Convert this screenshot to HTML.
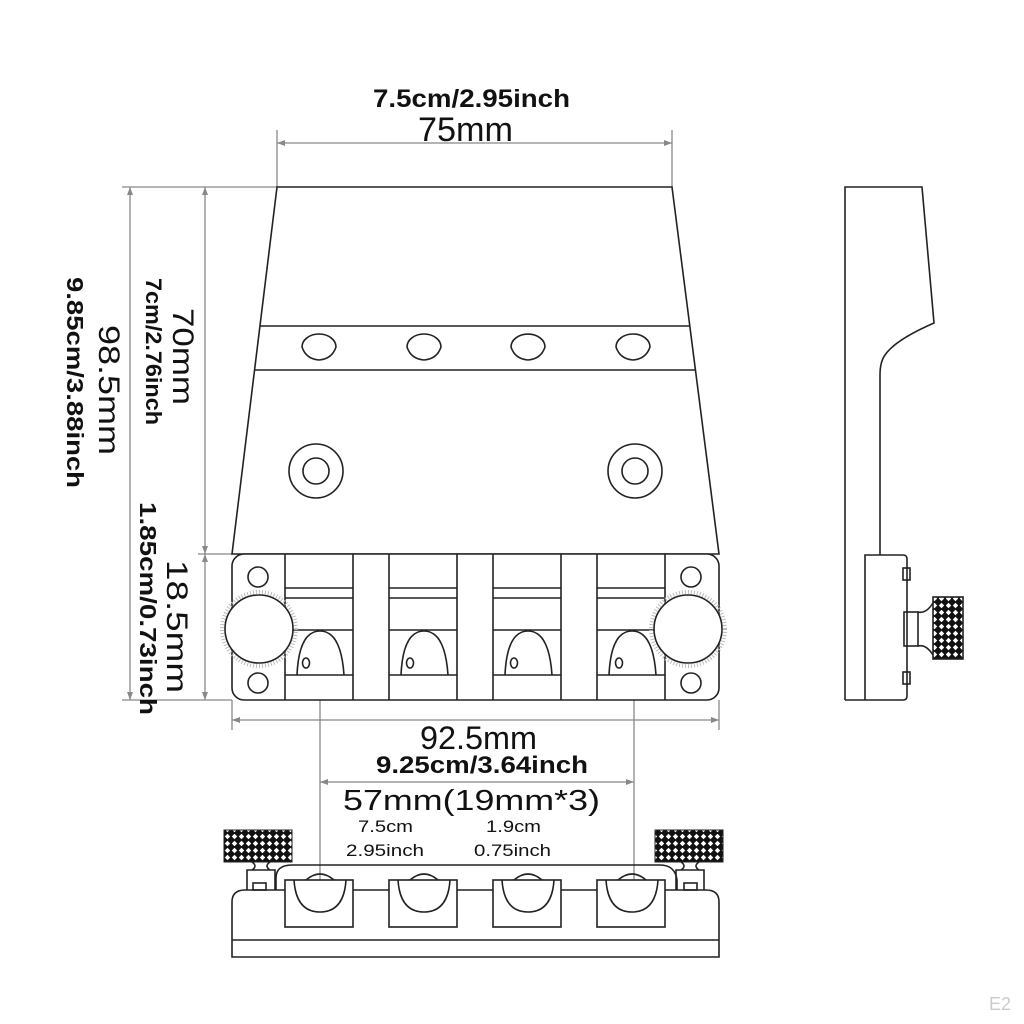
<!DOCTYPE html>
<html><head><style>
html,body{margin:0;padding:0;background:#fff;width:1024px;height:1024px;overflow:hidden}
svg{display:block}
text{font-family:"Liberation Sans",Arial,sans-serif;fill:#111}
.b{font-weight:bold}
</style></head><body>
<svg width="1024" height="1024" viewBox="0 0 1024 1024" xmlns="http://www.w3.org/2000/svg">
<defs>
<pattern id="kn" width="7" height="7" patternUnits="userSpaceOnUse">
<rect width="7" height="7" fill="#111"/>
<path d="M3.5 0.8 L6.2 3.5 L3.5 6.2 L0.8 3.5Z" fill="#fff"/>
</pattern>
</defs>
<g fill="none" stroke="#888" stroke-width="1.3">
<line x1="277" y1="143" x2="672" y2="143"/>
<line x1="277" y1="130" x2="277" y2="187"/>
<line x1="672" y1="130" x2="672" y2="187"/>
<line x1="122" y1="187" x2="277" y2="187"/>
<line x1="198" y1="554" x2="232" y2="554"/>
<line x1="122" y1="700" x2="232" y2="700"/>
<line x1="130" y1="187" x2="130" y2="700"/>
<line x1="205" y1="187" x2="205" y2="700"/>
<line x1="232" y1="720" x2="719" y2="720"/>
<line x1="232" y1="700" x2="232" y2="730"/>
<line x1="719" y1="700" x2="719" y2="730"/>
<line x1="320" y1="782" x2="634" y2="782"/>
<line x1="320" y1="660" x2="320" y2="920"/>
<line x1="634" y1="660" x2="634" y2="920"/>
</g>
<g fill="#888">
<path d="M277 143 l8 -3 v6z M672 143 l-8 -3 v6z"/>
<path d="M130 187 l-3 8 h6z M130 700 l-3 -8 h6z M205 187 l-3 8 h6z M205 554 l-3 -8 h6z M205 554 l-3 8 h6z M205 700 l-3 -8 h6z"/>
<path d="M232 720 l8 -3 v6z M719 720 l-8 -3 v6z M320 782 l8 -3 v6z M634 782 l-8 -3 v6z"/>
</g>

<g fill="none" stroke="#222" stroke-width="1.6">
<path d="M277 187 H672 L719 554 H232 Z"/>
<line x1="260" y1="326" x2="690" y2="326"/>
<line x1="255" y1="370" x2="696" y2="370"/>
<g fill="#fff">
<path d="M302 347 a17 13 0 0 1 34 0 q-4 12 -17 13 q-13 -1 -17 -13z"/>
<path d="M407 347 a17 13 0 0 1 34 0 q-4 12 -17 13 q-13 -1 -17 -13z"/>
<path d="M511 347 a17 13 0 0 1 34 0 q-4 12 -17 13 q-13 -1 -17 -13z"/>
<path d="M616 347 a17 13 0 0 1 34 0 q-4 12 -17 13 q-13 -1 -17 -13z"/>
</g>
<circle cx="316" cy="471" r="27"/><circle cx="316" cy="471" r="13"/>
<circle cx="635" cy="471" r="27"/><circle cx="635" cy="471" r="13"/>
<rect x="232" y="554" width="487" height="146" rx="12" fill="#fff"/>
<path d="M285 554V700 M353 554V700 M389 554V700 M457 554V700 M493 554V700 M561 554V700 M597 554V700 M665 554V700"/>
<path d="M285 588H353 M285 598H353 M285 630H353 M285 675H353"/>
<path d="M389 588H457 M389 598H457 M389 630H457 M389 675H457"/>
<path d="M493 588H561 M493 598H561 M493 630H561 M493 675H561"/>
<path d="M597 588H665 M597 598H665 M597 630H665 M597 675H665"/>
<path d="M297 675 Q299 631 320 631 Q341 631 344 675"/>
<path d="M401 675 Q403 631 424 631 Q445 631 448 675"/>
<path d="M505 675 Q507 631 528 631 Q549 631 552 675"/>
<path d="M609 675 Q611 631 632 631 Q653 631 656 675"/>
<ellipse cx="306" cy="663" rx="3.5" ry="5"/>
<ellipse cx="410" cy="663" rx="3.5" ry="5"/>
<ellipse cx="514" cy="663" rx="3.5" ry="5"/>
<ellipse cx="619" cy="663" rx="3.5" ry="5"/>
<circle cx="258" cy="577" r="10"/><circle cx="258" cy="683" r="10"/>
<circle cx="691" cy="577" r="10"/><circle cx="691" cy="683" r="10"/>
<circle cx="259" cy="629" r="37" stroke="#bbb" stroke-width="4" stroke-dasharray="1 2"/>
<circle cx="259" cy="629" r="34" fill="#fff"/>
<circle cx="688" cy="629" r="37" stroke="#bbb" stroke-width="4" stroke-dasharray="1 2"/>
<circle cx="688" cy="629" r="34" fill="#fff"/>

<path d="M845 700 V187 H922 L934 323 Q895 340 885 355 Q880 362 880 375 V555"/>
<path d="M845 700 H903 Q907 700 907 696 V559 Q907 555 903 555 H865 V700"/>
<rect x="903" y="568" width="7" height="12"/>
<rect x="903" y="672" width="7" height="12"/>
<rect x="904" y="612" width="14" height="34"/>
<path d="M918 612 Q926 614 933 603 M918 646 Q926 644 933 655"/>
<rect x="933" y="597" width="30" height="62" fill="url(#kn)"/>

<path d="M232 957 V902 Q232 890 245 890 H706 Q719 890 719 902 V957 Z"/>
<line x1="232" y1="940" x2="719" y2="940"/>
<path d="M276 890 V878 Q276 865 292 865 H660 Q675 865 677 880 V890"/>
<g fill="#fff">
<rect x="285" y="880" width="68" height="47"/>
<rect x="389" y="880" width="68" height="47"/>
<rect x="493" y="880" width="68" height="47"/>
<rect x="597" y="880" width="68" height="47"/>
</g>
<path d="M294 880 Q296 912 320 912 Q344 912 346 880 M306 880 Q320 868 334 880"/>
<path d="M398 880 Q400 912 424 912 Q448 912 450 880 M410 880 Q424 868 438 880"/>
<path d="M502 880 Q504 912 528 912 Q552 912 554 880 M514 880 Q528 868 542 880"/>
<path d="M606 880 Q608 912 632 912 Q656 912 658 880 M618 880 Q632 868 646 880"/>
<path d="M247 890 V870 H275 V890 M252 862 Q258 866 252 870 M270 862 Q264 866 270 870"/>
<rect x="253" y="883" width="13" height="7"/>
<path d="M676 890 V870 H704 V890 M681 862 Q687 866 681 870 M699 862 Q693 866 699 870"/>
<rect x="684" y="883" width="13" height="7"/>
</g>
<rect x="224" y="830" width="68" height="32" fill="url(#kn)" stroke="#222"/>
<rect x="655" y="830" width="68" height="32" fill="url(#kn)" stroke="#222"/>

<text x="373" y="107" font-size="25" class="b" textLength="197" lengthAdjust="spacingAndGlyphs">7.5cm/2.95inch</text>
<text x="418" y="141" font-size="34" textLength="95" lengthAdjust="spacingAndGlyphs">75mm</text>
<text transform="translate(173,308) rotate(90)" font-size="30" textLength="97" lengthAdjust="spacingAndGlyphs">70mm</text>
<text transform="translate(146,278) rotate(90)" font-size="22" class="b" textLength="147" lengthAdjust="spacingAndGlyphs">7cm/2.76inch</text>
<text transform="translate(99,325) rotate(90)" font-size="30" textLength="130" lengthAdjust="spacingAndGlyphs">98.5mm</text>
<text transform="translate(67,277) rotate(90)" font-size="23" class="b" textLength="211" lengthAdjust="spacingAndGlyphs">9.85cm/3.88inch</text>
<text transform="translate(167,560) rotate(90)" font-size="30" textLength="133" lengthAdjust="spacingAndGlyphs">18.5mm</text>
<text transform="translate(140,502) rotate(90)" font-size="23" class="b" textLength="213" lengthAdjust="spacingAndGlyphs">1.85cm/0.73inch</text>
<text x="420" y="749" font-size="32" textLength="117" lengthAdjust="spacingAndGlyphs">92.5mm</text>
<text x="376" y="773" font-size="24" class="b" textLength="212" lengthAdjust="spacingAndGlyphs">9.25cm/3.64inch</text>
<text x="343" y="810" font-size="29" textLength="257" lengthAdjust="spacingAndGlyphs">57mm(19mm*3)</text>
<text x="358" y="832" font-size="17" textLength="55" lengthAdjust="spacingAndGlyphs">7.5cm</text>
<text x="346" y="856" font-size="17" textLength="78" lengthAdjust="spacingAndGlyphs">2.95inch</text>
<text x="486" y="832" font-size="17" textLength="55" lengthAdjust="spacingAndGlyphs">1.9cm</text>
<text x="474" y="856" font-size="17" textLength="77" lengthAdjust="spacingAndGlyphs">0.75inch</text>
<text x="1000" y="1010" font-size="18" style="fill:#ccc" text-anchor="middle">E2</text>
</svg>
</body></html>
